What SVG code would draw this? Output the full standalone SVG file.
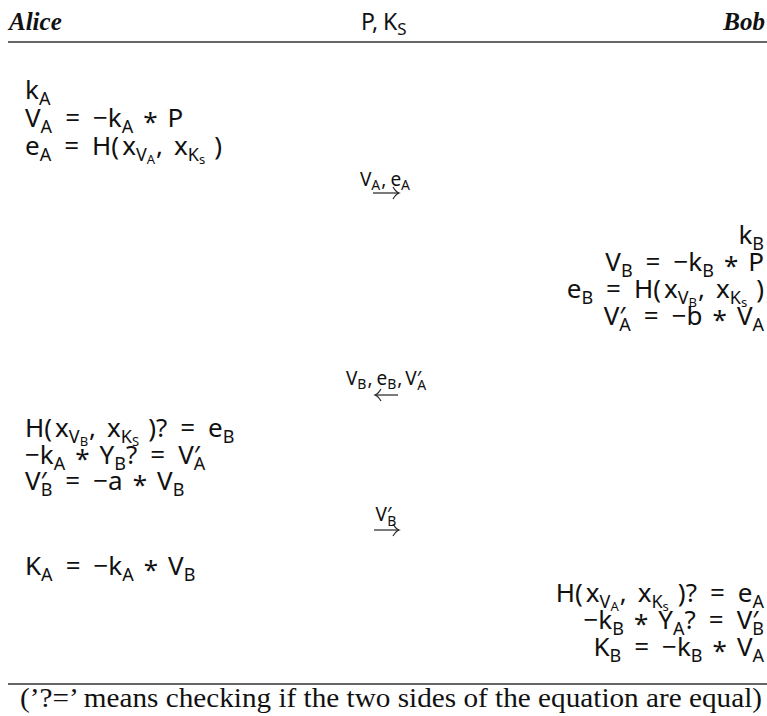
<svg xmlns="http://www.w3.org/2000/svg" width="767" height="716" viewBox="0 0 767 716">
<style>
.m{font-family:"Noto Sans","DejaVu Sans",sans-serif;font-size:26px;fill:#111}
.s{font-size:18px}
.ss{font-size:13px}
.l{font-family:"Noto Sans","DejaVu Sans",sans-serif;font-size:19px;fill:#111}
.ls{font-size:14px}
.hd{font-family:"Liberation Serif",serif;font-weight:bold;font-style:italic;font-size:25px;fill:#111}
.fn{font-family:"Liberation Serif",serif;font-size:28px;fill:#111}
.rule{stroke:#333;stroke-width:1.3}
.arr{stroke:#222;stroke-width:1.2;fill:none}
</style>
<defs>
<marker id="head" markerUnits="userSpaceOnUse" markerWidth="10" markerHeight="14" refX="7" refY="7" orient="auto-start-reverse">
<path d="M1,1 Q4,6 7,7 Q4,8 1,13" fill="none" stroke="#222" stroke-width="1.2"/>
</marker>
</defs>
<g id="header">
<text class="hd" x="9" y="30">Alice</text>
<text class="m" x="361" y="30" style="font-size:23px">P,<tspan dx="5">K</tspan><tspan class="s" dy="5" style="font-size:17px">S</tspan></text>
<text class="hd" x="765" y="30" text-anchor="end">Bob</text>
<line class="rule" x1="8" y1="42" x2="767" y2="42"/>
</g>
<g id="alice-init">
<text class="m" x="25" y="99">k<tspan class="s" dy="6">A</tspan></text>
<text class="m" x="25" y="127">V<tspan class="s" dy="6">A</tspan><tspan dx="13" dy="-6">=</tspan><tspan dx="13">−k</tspan><tspan class="s" dy="6">A</tspan><tspan dx="10" dy="-2">*</tspan><tspan dx="10" dy="-4">P</tspan></text>
<text class="m" x="25" y="155">e<tspan class="s" dy="6">A</tspan><tspan dx="13" dy="-6">=</tspan><tspan dx="13">H(</tspan><tspan dx="3">x</tspan><tspan class="s" dy="6">V</tspan><tspan class="ss" dy="3">A</tspan><tspan dx="1" dy="-9">,</tspan><tspan dx="11">x</tspan><tspan class="s" dy="6">K</tspan><tspan class="ss" dy="3">s</tspan><tspan dx="9" dy="-9">)</tspan></text>
</g>
<g id="bob-init">
<text class="m" x="764" y="244" text-anchor="end">k<tspan class="s" dy="6">B</tspan></text>
<text class="m" x="764" y="271" text-anchor="end">V<tspan class="s" dy="6">B</tspan><tspan dx="13" dy="-6">=</tspan><tspan dx="13">−k</tspan><tspan class="s" dy="6">B</tspan><tspan dx="10" dy="-2">*</tspan><tspan dx="10" dy="-4">P</tspan></text>
<text class="m" x="764" y="298" text-anchor="end">e<tspan class="s" dy="6">B</tspan><tspan dx="13" dy="-6">=</tspan><tspan dx="13">H(</tspan><tspan dx="3">x</tspan><tspan class="s" dy="6">V</tspan><tspan class="ss" dy="3">B</tspan><tspan dx="1" dy="-9">,</tspan><tspan dx="11">x</tspan><tspan class="s" dy="6">K</tspan><tspan class="ss" dy="3">s</tspan><tspan dx="9" dy="-9">)</tspan></text>
<text class="m" x="764" y="325" text-anchor="end">V′<tspan class="s" dx="-6" dy="6">A</tspan><tspan dx="13" dy="-6">=</tspan><tspan dx="13">−b</tspan><tspan dx="10" dy="4">*</tspan><tspan dx="10" dy="-4">V</tspan><tspan class="s" dy="6">A</tspan></text>
</g>
<g id="alice-verify">
<text class="m" x="25" y="437">H(<tspan dx="3">x</tspan><tspan class="s" dy="6">V</tspan><tspan class="ss" dy="3">B</tspan><tspan dx="1" dy="-9">,</tspan><tspan dx="11">x</tspan><tspan class="s" dy="6">K</tspan><tspan class="ss" dy="3">S</tspan><tspan dx="9" dy="-9">)?</tspan><tspan dx="13">=</tspan><tspan dx="13">e</tspan><tspan class="s" dy="6">B</tspan></text>
<text class="m" x="25" y="464">−k<tspan class="s" dy="6">A</tspan><tspan dx="10" dy="-2">*</tspan><tspan dx="10" dy="-4">Y</tspan><tspan class="s" dy="6">B</tspan><tspan dy="-6">?</tspan><tspan dx="13">=</tspan><tspan dx="13">V′</tspan><tspan class="s" dx="-6" dy="6">A</tspan></text>
<text class="m" x="25" y="490">V′<tspan class="s" dx="-6" dy="6">B</tspan><tspan dx="13" dy="-6">=</tspan><tspan dx="13">−a</tspan><tspan dx="10" dy="4">*</tspan><tspan dx="10" dy="-4">V</tspan><tspan class="s" dy="6">B</tspan></text>
</g>
<g id="alice-key">
<text class="m" x="25" y="575">K<tspan class="s" dy="6">A</tspan><tspan dx="13" dy="-6">=</tspan><tspan dx="13">−k</tspan><tspan class="s" dy="6">A</tspan><tspan dx="10" dy="-2">*</tspan><tspan dx="10" dy="-4">V</tspan><tspan class="s" dy="6">B</tspan></text>
</g>
<g id="bob-verify">
<text class="m" x="764" y="602" text-anchor="end">H(<tspan dx="3">x</tspan><tspan class="s" dy="6">V</tspan><tspan class="ss" dy="3">A</tspan><tspan dx="1" dy="-9">,</tspan><tspan dx="11">x</tspan><tspan class="s" dy="6">K</tspan><tspan class="ss" dy="3">s</tspan><tspan dx="9" dy="-9">)?</tspan><tspan dx="13">=</tspan><tspan dx="13">e</tspan><tspan class="s" dy="6">A</tspan></text>
<text class="m" x="764" y="629" text-anchor="end">−k<tspan class="s" dy="6">B</tspan><tspan dx="10" dy="-2">*</tspan><tspan dx="10" dy="-4">Y</tspan><tspan class="s" dy="6">A</tspan><tspan dy="-6">?</tspan><tspan dx="13">=</tspan><tspan dx="13">V′</tspan><tspan class="s" dx="-6" dy="6">B</tspan></text>
<text class="m" x="764" y="656" text-anchor="end">K<tspan class="s" dy="6">B</tspan><tspan dx="13" dy="-6">=</tspan><tspan dx="13">−k</tspan><tspan class="s" dy="6">B</tspan><tspan dx="10" dy="-2">*</tspan><tspan dx="10" dy="-4">V</tspan><tspan class="s" dy="6">A</tspan></text>
</g>
<g id="connectors">
<g id="msg1">
<text class="l" x="385" y="186" text-anchor="middle">V<tspan class="ls" dy="4">A</tspan><tspan dx="1" dy="-4">,</tspan><tspan dx="4">e</tspan><tspan class="ls" dy="4">A</tspan></text>
<line class="arr" x1="373" y1="193" x2="399" y2="193" marker-end="url(#head)"/>
</g>
<g id="msg2">
<text class="l" x="386" y="385" text-anchor="middle">V<tspan class="ls" dy="4">B</tspan><tspan dx="1" dy="-4">,</tspan><tspan dx="4">e</tspan><tspan class="ls" dy="4">B</tspan><tspan dx="1" dy="-4">,</tspan><tspan dx="4">V′</tspan><tspan class="ls" dx="-4" dy="5">A</tspan></text>
<line class="arr" x1="375" y1="395" x2="398" y2="395" marker-start="url(#head)"/>
</g>
<g id="msg3">
<text class="l" x="386" y="521" text-anchor="middle">V′<tspan class="ls" dx="-4" dy="5">B</tspan></text>
<line class="arr" x1="374" y1="530" x2="399" y2="530" marker-end="url(#head)"/>
</g>
</g>
<g id="footnote">
<line class="rule" x1="8" y1="684" x2="767" y2="684"/>
<text class="fn" x="20" y="707" textLength="742" lengthAdjust="spacingAndGlyphs">(’?=’ means checking if the two sides of the equation are equal)</text>
</g>
</svg>
